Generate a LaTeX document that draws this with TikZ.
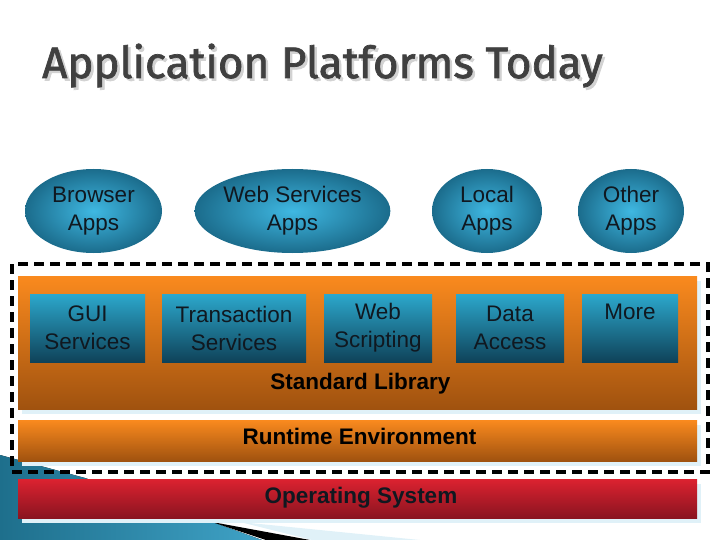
\documentclass[tikz,border=0pt]{standalone}
\usepackage{fontspec}
\setmainfont{Liberation Sans}
\newfontfamily\titlefont{Fira Sans}[FakeBold=1.6]
\usetikzlibrary{shapes.geometric, shadows, positioning}
\definecolor{TitleGrey}{HTML}{404040}
\definecolor{TitleShade}{HTML}{D2D2D2}
\definecolor{AppLight}{HTML}{3FB8E2}
\definecolor{AppDark}{HTML}{1B6C8C}
\definecolor{SvcTop}{HTML}{2CA8CC}
\definecolor{SvcBottom}{HTML}{0F4259}
\definecolor{OrangeTop}{HTML}{FA8A1E}
\definecolor{OrangeBottom}{HTML}{A0520F}
\definecolor{RedTop}{HTML}{DC2230}
\definecolor{RedBottom}{HTML}{8A1420}
\definecolor{PaleBlue}{HTML}{E0F1F8}
\definecolor{Teal}{HTML}{1E6F8C}
\definecolor{TealLight}{HTML}{3FA2C6}
\definecolor{InkDark}{HTML}{101820}

\begin{document}
\begin{tikzpicture}[x=1pt, y=-1pt,
          app/.style={ellipse, inner sep=0pt, inner color=AppLight, outer color=AppDark,
                      minimum height=84pt, font=\fontsize{22.5}{28}\selectfont,
                      align=center, text=InkDark},
          svc/.style={rectangle, inner sep=0pt, top color=SvcTop, bottom color=SvcBottom,
                      minimum height=68pt, font=\fontsize{22.5}{28}\selectfont,
                      align=center, text=InkDark},
          layer/.style={rectangle, inner sep=0pt, minimum width=679pt,
                        drop shadow={shadow xshift=4pt, shadow yshift=-5pt, fill=PaleBlue, opacity=1}},
          layertext/.style={font=\fontsize{22.5}{26}\selectfont\bfseries, text=black},
          platform/.style={draw=black, line width=3.5pt, dash pattern=on 10pt off 6pt}
        ]
          \useasboundingbox (0,0) rectangle (720,540);
          % slide decoration, bottom left
          \fill[left color=Teal, right color=TealLight]
            (0,455) -- (85,478) -- (215,523) -- (262,540) -- (0,540) -- cycle;
          \fill[black] (212,522) -- (310,540) -- (266,540) -- cycle;
          \fill[PaleBlue] (240,522) -- (420,540) -- (312,540) -- cycle;
          % title, with its grey shadow
          \node[anchor=base west, inner sep=0pt, text=TitleGrey, font=\titlefont\fontsize{44}{48}\selectfont]
            (title) at (42,78) {\makebox[0pt][l]{\hspace{2.5pt}\raisebox{-2.5pt}{\color{TitleShade}Application Platforms Today}}Application Platforms Today};
          % applications
          \node[app, minimum width=137pt] (browser) at (93.5,211) {Browser\\Apps};
          \node[app, minimum width=189pt] (websvc) at (292.5,211) {Web Services\\Apps};
          \node[app, minimum width=110pt] (local) at (487,211) {Local\\Apps};
          \node[app, minimum width=106pt] (other) at (631,211) {Other\\Apps};
          % platform layers
          \node[layer, minimum height=133pt, top color=OrangeTop, bottom color=OrangeBottom]
            (stdlib) at (357.5,342.5) {};
          \node[layer, minimum height=41pt, top color=OrangeTop, bottom color=OrangeBottom]
            (runtime) at (357.5,440.5) {};
          \node[layer, minimum height=39pt, top color=RedTop, bottom color=RedBottom]
            (os) at (357.5,498.5) {};
          % library services
          \node[svc, minimum width=115pt] (gui) at (87.5,328) {GUI\\Services};
          \node[svc, minimum width=144pt] (trans) at (234,328) {Transaction\\Services};
          \node[svc, minimum width=108pt] (script) at (378,328) {Web\\Scripting};
          \node[svc, minimum width=108pt] (data) at (510,328) {Data\\Access};
          \node[svc, minimum width=96pt] (more) at (630,328) {More\\\phantom{Ag}};
          % layer names
          \node[layertext] (stdlbl) at (360.5,384) {Standard Library};
          \node[layertext] (rtlbl) at (359.5,436) {Runtime Environment};
          \node[layertext, text=InkDark] (oslbl) at (361,498) {Operating System};
          % the platform boundary
          \draw[platform] (12,264) rectangle (708,472);
        \end{tikzpicture}
\end{document}
